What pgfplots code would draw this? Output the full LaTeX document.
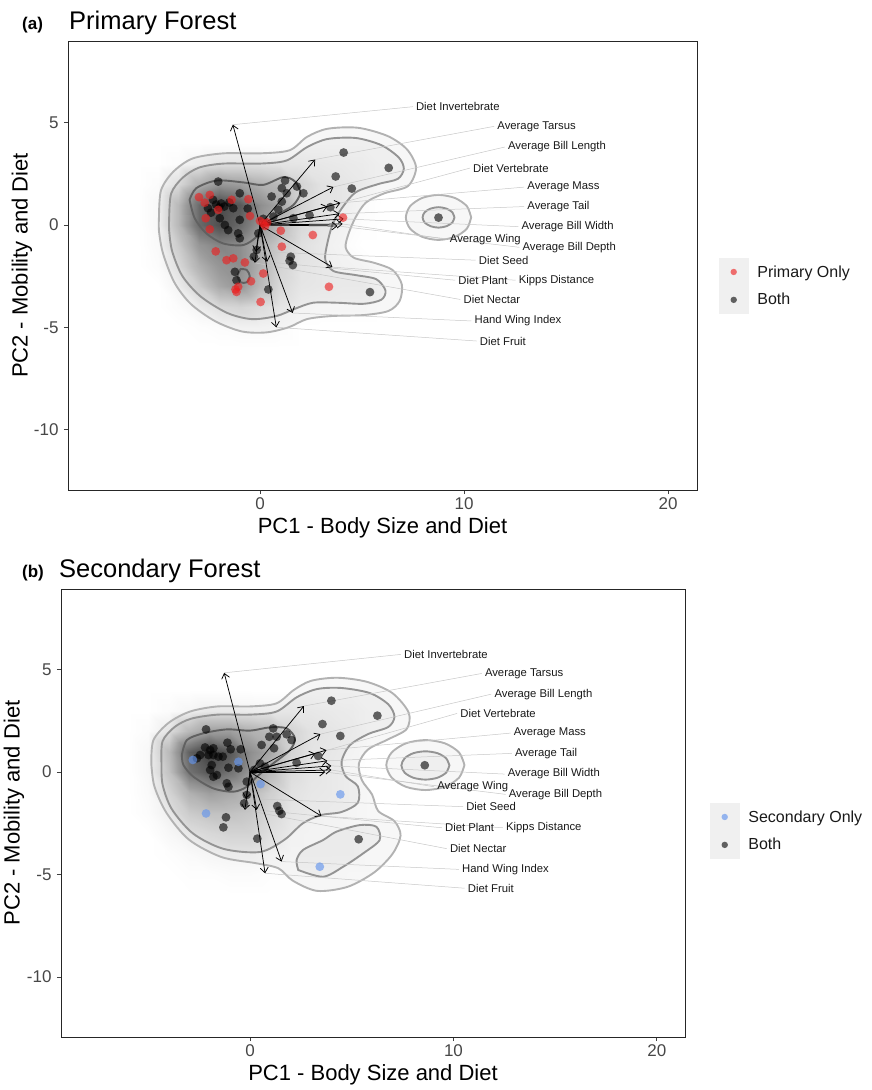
\documentclass[border=0pt]{standalone}
\usepackage{fontspec}
\setmainfont{Liberation Sans}
\usepackage{pgfplots}
\pgfplotsset{compat=1.18}
\usetikzlibrary{arrows.meta}
\definecolor{pfred}{RGB}{238,30,30}
\definecolor{sfblue}{RGB}{100,149,237}

\pgfplotsset{legend image code/.code={\fill[black!6] (0pt,-13.75pt) rectangle (29pt,13.75pt); \draw[mark repeat=2,mark phase=2,#1,mark size=3.2pt] plot coordinates {(0pt,0pt) (14.5pt,0pt) (29pt,0pt)};}}

\pgfplotsset{
  pca/.style={
    scale only axis,
    axis lines=box,
    tick pos=left,
    xtick={0,10,20}, xticklabels={0,10,20},
    ytick={-10,-5,0,5}, yticklabels={-10,-5,0,5},
    tick align=outside,
    major tick length=4pt,
    ticklabel style={font=\fontsize{17}{20}\selectfont, text=black!72},
    yticklabel style={xshift=-2pt},
    axis line style={black!85, line width=0.9pt},
    every tick/.style={black!75, line width=0.9pt},
    colormap={gw}{color(0)=(white) color(1)=(black!74)},
    point meta min=0, point meta max=1,
    legend cell align=left,
    legend style={draw=none, fill=none, inner sep=0pt, outer sep=0pt, row sep=0pt, column sep=9pt, font=\fontsize{16}{19}\selectfont, nodes={inner sep=0pt, text=black!90}, anchor=north west},
    every axis x label/.style={at={(axis description cs:0.5,-0.0846)}, anchor=center, font=\fontsize{22}{26}\selectfont, text=black},
    xlabel={PC1 - Body Size and Diet}, ylabel={PC2 - Mobility and Diet},
  },
  dens/.style={forget plot, surf, shader=interp, mesh/rows=11, mesh/cols=13, point meta=explicit},
  ring1/.style={forget plot, smooth, draw=black!30, line width=1.9pt, fill=black, fill opacity=0.03},
  ring2/.style={forget plot, smooth, draw=black!42, line width=1.9pt, fill=black, fill opacity=0.03},
  ring3/.style={forget plot, smooth, draw=black!62, line width=1.9pt},
  leader/.style={forget plot, black!22, line width=0.5pt, quiver={u=\thisrow{u},v=\thisrow{v}}},
  loading/.style={forget plot, black, line width=0.75pt, -{Straight Barb[length=5pt,width=8pt]}, quiver={u=\thisrow{u},v=\thisrow{v}}},
  bothpts/.style={only marks, mark=*, mark size=4.4pt, mark options={draw=black, draw opacity=0, fill=black, fill opacity=0.6}},
  redpts/.style={only marks, mark=*, mark size=4.4pt, mark options={draw=pfred, draw opacity=0, fill=pfred, fill opacity=0.62}},
  bluepts/.style={only marks, mark=*, mark size=4.4pt, mark options={draw=sfblue, draw opacity=0, fill=sfblue, fill opacity=0.65}},
  varlabels/.style={forget plot, only marks, mark=*, mark size=0pt, mark options={draw=none, fill=none}, nodes near coords, point meta=explicit symbolic, nodes near coords style={anchor=west, inner sep=0pt, font=\fontsize{11.3}{13}\selectfont, text=black!90}},
}

\begin{document}
\begin{tikzpicture}
\path[use as bounding box] (0pt,0pt) rectangle (871pt,-1090pt);
\node[anchor=base west, inner sep=0pt, font=\bfseries\fontsize{17}{20}\selectfont] at (22pt,-29pt) {(a)};
\node[anchor=base west, inner sep=0pt, font=\fontsize{25.5}{30}\selectfont] at (69pt,-29pt) {Primary Forest};
\node[anchor=base west, inner sep=0pt, font=\bfseries\fontsize{17}{20}\selectfont] at (22pt,-577pt) {(b)};
\node[anchor=base west, inner sep=0pt, font=\fontsize{25.5}{30}\selectfont] at (59pt,-577pt) {Secondary Forest};

% ================= Panel (a) =================
\begin{axis}[pca, at={(68pt,-490pt)}, anchor=south west, width=629pt, height=449pt,
  xmin=-9.41, xmax=21.42, ymin=-12.95, ymax=8.99,
  every axis y label/.style={at={(axis description cs:-0.0731,0.5)}, anchor=center, rotate=90, font=\fontsize{22}{26}\selectfont, text=black},
  legend style={at={(axis description cs:1.035,0.5167)}}]
\addplot[dens] coordinates {
(-6,-6)[0] (-5,-6)[0] (-4,-6)[0] (-3,-6)[0] (-2,-6)[0] (-1,-6)[0] (0,-6)[0] (1,-6)[0] (2,-6)[0] (3,-6)[0] (4,-6)[0] (5,-6)[0] (6,-6)[0]
(-6,-5)[0] (-5,-5)[0] (-4,-5)[0] (-3,-5)[0.01] (-2,-5)[0.02] (-1,-5)[0.03] (0,-5)[0.03] (1,-5)[0.02] (2,-5)[0] (3,-5)[0] (4,-5)[0] (5,-5)[0] (6,-5)[0]
(-6,-4)[0] (-5,-4)[0] (-4,-4)[0.02] (-3,-4)[0.06] (-2,-4)[0.12] (-1,-4)[0.15] (0,-4)[0.1] (1,-4)[0.05] (2,-4)[0.02] (3,-4)[0.01] (4,-4)[0.01] (5,-4)[0.01] (6,-4)[0]
(-6,-3)[0] (-5,-3)[0] (-4,-3)[0.06] (-3,-3)[0.2] (-2,-3)[0.4] (-1,-3)[0.5] (0,-3)[0.3] (1,-3)[0.12] (2,-3)[0.05] (3,-3)[0.04] (4,-3)[0.03] (5,-3)[0.03] (6,-3)[0]
(-6,-2)[0] (-5,-2)[0.02] (-4,-2)[0.12] (-3,-2)[0.35] (-2,-2)[0.5] (-1,-2)[0.55] (0,-2)[0.35] (1,-2)[0.15] (2,-2)[0.06] (3,-2)[0.04] (4,-2)[0.03] (5,-2)[0.02] (6,-2)[0]
(-6,-1)[0] (-5,-1)[0.03] (-4,-1)[0.2] (-3,-1)[0.5] (-2,-1)[0.6] (-1,-1)[0.55] (0,-1)[0.35] (1,-1)[0.2] (2,-1)[0.08] (3,-1)[0.04] (4,-1)[0.02] (5,-1)[0] (6,-1)[0]
(-6,0)[0] (-5,0)[0.04] (-4,0)[0.3] (-3,0)[0.75] (-2,0)[0.9] (-1,0)[0.75] (0,0)[0.5] (1,0)[0.3] (2,0)[0.12] (3,0)[0.05] (4,0)[0.03] (5,0)[0.01] (6,0)[0]
(-6,1)[0] (-5,1)[0.04] (-4,1)[0.3] (-3,1)[0.75] (-2,1)[0.95] (-1,1)[0.85] (0,1)[0.55] (1,1)[0.4] (2,1)[0.15] (3,1)[0.06] (4,1)[0.05] (5,1)[0.02] (6,1)[0]
(-6,2)[0] (-5,2)[0.02] (-4,2)[0.12] (-3,2)[0.35] (-2,2)[0.5] (-1,2)[0.45] (0,2)[0.35] (1,2)[0.3] (2,2)[0.15] (3,2)[0.07] (4,2)[0.05] (5,2)[0.03] (6,2)[0]
(-6,3)[0] (-5,3)[0] (-4,3)[0.02] (-3,3)[0.06] (-2,3)[0.1] (-1,3)[0.1] (0,3)[0.08] (1,3)[0.06] (2,3)[0.05] (3,3)[0.04] (4,3)[0.03] (5,3)[0.02] (6,3)[0]
(-6,4)[0] (-5,4)[0] (-4,4)[0] (-3,4)[0] (-2,4)[0] (-1,4)[0] (0,4)[0] (1,4)[0] (2,4)[0] (3,4)[0] (4,4)[0] (5,4)[0] (6,4)[0]
};
\addplot[ring1] coordinates {(-4.95,0.4) (-4.85,1.7) (-4.25,2.6) (-3.3,3.25) (-1.8,3.5) (0,3.5) (1.45,3.65) (2.3,4.3) (3.3,4.7) (4.8,4.75) (6.25,4.35) (7.2,3.7) (7.65,2.8) (7.25,1.9) (6.1,1.55) (5.2,1.1) (4.7,0.4) (4.35,-0.4) (4.2,-1.1) (4.6,-1.6) (5.6,-1.85) (6.5,-2.2) (6.95,-2.9) (6.85,-3.7) (6.3,-4.2) (5.1,-4.4) (3.5,-4.45) (2.3,-4.6) (1.4,-5.0) (0.3,-5.25) (-0.9,-5.2) (-2.2,-4.7) (-3.4,-3.85) (-4.2,-2.8) (-4.75,-1.4) (-4.95,-0.3) (-4.95,0.4)} -- cycle;
\addplot[ring2] coordinates {(-4.45,0.4) (-4.35,1.55) (-3.8,2.3) (-3.0,2.8) (-1.8,3.0) (0,3.0) (1.3,3.15) (2.3,3.8) (3.3,4.2) (4.7,4.25) (5.95,3.9) (6.8,3.3) (7.05,2.75) (6.75,2.25) (5.8,2.0) (4.7,1.6) (4.0,0.8) (3.55,0) (3.3,-0.9) (3.2,-1.7) (3.6,-2.25) (4.7,-2.45) (5.7,-2.65) (6.15,-3.2) (5.95,-3.65) (5.1,-3.85) (3.8,-3.8) (2.6,-3.8) (1.7,-4.1) (0.8,-4.45) (-0.4,-4.6) (-1.6,-4.3) (-2.9,-3.5) (-3.8,-2.5) (-4.3,-1.3) (-4.45,-0.3) (-4.45,0.4)} -- cycle;
\addplot[ring1] coordinates {(10.35,0.37) (10.14,0.92) (9.55,1.32) (8.75,1.47) (7.95,1.32) (7.36,0.92) (7.15,0.37) (7.36,-0.18) (7.95,-0.58) (8.75,-0.73) (9.55,-0.58) (10.14,-0.18) (10.35,0.37)} -- cycle;
\addplot[ring2] coordinates {(9.53,0.37) (9.43,0.62) (9.14,0.80) (8.75,0.87) (8.36,0.80) (8.07,0.62) (7.97,0.37) (8.07,0.12) (8.36,-0.06) (8.75,-0.13) (9.14,-0.06) (9.43,0.12) (9.53,0.37)} -- cycle;
\addplot[ring3] coordinates {(-3.45,1.23) (-3.12,1.80) (-2.13,2.17) (-0.82,2.08) (0.16,1.96) (1.15,2.34) (1.72,2.12) (1.97,1.55) (1.64,0.98) (0.99,0.57) (0.33,0.08) (-0.16,-0.57) (-0.82,-0.98) (-1.81,-0.90) (-2.63,-0.41) (-3.20,0.33) (-3.45,1.23)} -- cycle;
\addplot[ring3] coordinates {(-0.95,-2.15) (-0.65,-2.2) (-0.5,-2.5) (-0.65,-2.8) (-0.95,-2.8) (-1.1,-2.5) (-0.95,-2.15)} -- cycle;
\addplot[leader] table {
x y u v
-1.33 4.9 8.83 0.88
2.7 3.2 8.78 1.62
3.6 1.86 8.4 1.95
3.3 0.9 6.99 1.88
3.94 1.08 9.01 0.77
3.9 0.55 9.05 0.35
4.1 0.3 8.56 -0.38
4.05 0.05 5.1 -0.75
3.8 -0.05 8.91 -1.04
-0.2 -1.3 10.77 -0.42
0.35 -1.8 9.22 -0.9
3.55 -2.06 8.98 -0.64
-0.25 -1.85 10.07 -1.79
1.6 -4.3 8.76 -0.39
0.8 -5.0 9.82 -0.67
};
\addplot[bothpts, forget plot] coordinates {(4.10,3.54) (6.31,2.79) (3.71,2.37) (4.50,1.78) (8.75,0.36) (5.39,-3.28) (2.43,0.47) (3.45,0.87) (1.51,-1.55) (1.61,-1.96) (1.45,-1.75) (0.41,-3.15) (-1.15,-2.70) (-1.23,-2.29) (-2.05,2.12) (1.23,2.17) (1.07,1.80) (1.31,1.55) (1.81,1.88) (2.13,1.55) (1.07,1.14) (0.57,1.39) (0.66,0.41) (1.64,0.33) (-0.99,1.55) (-2.30,1.23) (-2.15,1.00) (-1.90,1.05) (-1.75,0.90) (-2.0,0.85) (-2.55,0.82) (-1.31,0.82) (-0.99,0.25) (-1.72,0.00) (-1.56,-0.25) (-1.07,-0.41) (-0.99,-0.65) (-0.08,-0.41) (-0.16,-1.22) (-1.97,0.33) (0.16,0.30) (-0.3,-1.55) (0.9,0.75) (-2.4,0.6) (-1.5,1.1) (-0.6,0.8)};
\addplot[redpts, forget plot] coordinates {(-2.99,1.36) (-2.46,1.47) (-2.71,1.09) (-1.39,1.23) (-0.57,1.26) (-0.49,0.44) (-2.05,0.74) (-2.66,0.33) (-2.46,-0.21) (0.16,0.08) (0.35,0.12) (0.0,0.2) (0.25,-0.05) (4.07,0.36) (2.59,-0.49) (1.02,-0.28) (1.07,-1.06) (-2.17,-1.29) (-1.64,-1.72) (-1.31,-1.63) (-0.74,-1.83) (0.16,-2.37) (-0.44,-2.75) (-1.07,-3.02) (-1.15,-3.27) (0.03,-3.76) (3.38,-3.02) (-1.2,-3.15)};
\addplot[loading] table {
x y u v
0 0 -1.33 4.9
0 0 2.7 3.2
0 0 3.6 1.86
0 0 3.3 0.9
0 0 3.94 1.08
0 0 3.9 0.55
0 0 4.1 0.3
0 0 4.05 0.05
0 0 3.8 -0.05
0 0 -0.2 -1.3
0 0 0.35 -1.8
0 0 3.55 -2.06
0 0 -0.25 -1.85
0 0 1.6 -4.3
0 0 0.8 -5.0
};
\addplot[varlabels] table[meta=label] {
x y label
7.64 5.78 {Diet Invertebrate}
11.63 4.82 {Average Tarsus}
12.15 3.81 {Average Bill Length}
10.44 2.78 {Diet Vertebrate}
13.10 1.85 {Average Mass}
13.10 0.90 {Average Tail}
12.81 -0.08 {Average Bill Width}
9.30 -0.70 {Average Wing}
12.86 -1.09 {Average Bill Depth}
10.72 -1.72 {Diet Seed}
9.72 -2.70 {Diet Plant}
12.68 -2.70 {Kipps Distance}
9.97 -3.64 {Diet Nectar}
10.51 -4.69 {Hand Wing Index}
10.77 -5.67 {Diet Fruit}
};
\addlegendimage{redpts}
\addlegendentry{Primary Only}
\addlegendimage{bothpts}
\addlegendentry{Both}
\node[anchor=base west, inner sep=0pt, font=\fontsize{21}{25}\selectfont] at (axis description cs:1.0393,0.5457) {Forest Type};
\end{axis}

% ================= Panel (b) =================
\begin{scope}[shift={(61pt,-1037pt)}]
\begin{axis}[pca, at={(0pt,0pt)}, anchor=south west, width=624pt, height=448pt,
  xmin=-9.29, xmax=21.38, ymin=-12.93, ymax=8.93,
  every axis y label/.style={at={(axis description cs:-0.0753,0.5)}, anchor=center, rotate=90, font=\fontsize{22}{26}\selectfont, text=black},
  legend style={at={(axis description cs:1.0401,0.5223)}}]
\addplot[dens] coordinates {
(-6,-6)[0] (-5,-6)[0] (-4,-6)[0] (-3,-6)[0] (-2,-6)[0] (-1,-6)[0] (0,-6)[0] (1,-6)[0] (2,-6)[0] (3,-6)[0] (4,-6)[0] (5,-6)[0] (6,-6)[0]
(-6,-5)[0] (-5,-5)[0] (-4,-5)[0] (-3,-5)[0.01] (-2,-5)[0.01] (-1,-5)[0.02] (0,-5)[0.02] (1,-5)[0.01] (2,-5)[0.01] (3,-5)[0.01] (4,-5)[0.01] (5,-5)[0] (6,-5)[0]
(-6,-4)[0] (-5,-4)[0] (-4,-4)[0.01] (-3,-4)[0.03] (-2,-4)[0.05] (-1,-4)[0.06] (0,-4)[0.06] (1,-4)[0.03] (2,-4)[0.02] (3,-4)[0.02] (4,-4)[0.02] (5,-4)[0.02] (6,-4)[0]
(-6,-3)[0] (-5,-3)[0] (-4,-3)[0.04] (-3,-3)[0.08] (-2,-3)[0.12] (-1,-3)[0.15] (0,-3)[0.15] (1,-3)[0.08] (2,-3)[0.03] (3,-3)[0.02] (4,-3)[0.02] (5,-3)[0.02] (6,-3)[0]
(-6,-2)[0] (-5,-2)[0.02] (-4,-2)[0.08] (-3,-2)[0.2] (-2,-2)[0.25] (-1,-2)[0.25] (0,-2)[0.22] (1,-2)[0.12] (2,-2)[0.05] (3,-2)[0.03] (4,-2)[0.02] (5,-2)[0.01] (6,-2)[0]
(-6,-1)[0] (-5,-1)[0.03] (-4,-1)[0.15] (-3,-1)[0.35] (-2,-1)[0.45] (-1,-1)[0.4] (0,-1)[0.3] (1,-1)[0.18] (2,-1)[0.07] (3,-1)[0.04] (4,-1)[0.03] (5,-1)[0.01] (6,-1)[0]
(-6,0)[0] (-5,0)[0.04] (-4,0)[0.25] (-3,0)[0.7] (-2,0)[0.85] (-1,0)[0.7] (0,0)[0.5] (1,0)[0.3] (2,0)[0.1] (3,0)[0.05] (4,0)[0.03] (5,0)[0.01] (6,0)[0]
(-6,1)[0] (-5,1)[0.04] (-4,1)[0.3] (-3,1)[0.8] (-2,1)[1.0] (-1,1)[0.85] (0,1)[0.55] (1,1)[0.4] (2,1)[0.15] (3,1)[0.06] (4,1)[0.04] (5,1)[0.02] (6,1)[0]
(-6,2)[0] (-5,2)[0.02] (-4,2)[0.1] (-3,2)[0.3] (-2,2)[0.45] (-1,2)[0.45] (0,2)[0.35] (1,2)[0.3] (2,2)[0.15] (3,2)[0.07] (4,2)[0.05] (5,2)[0.03] (6,2)[0]
(-6,3)[0] (-5,3)[0] (-4,3)[0.02] (-3,3)[0.05] (-2,3)[0.08] (-1,3)[0.08] (0,3)[0.06] (1,3)[0.05] (2,3)[0.05] (3,3)[0.04] (4,3)[0.03] (5,3)[0.02] (6,3)[0]
(-6,4)[0] (-5,4)[0] (-4,4)[0] (-3,4)[0] (-2,4)[0] (-1,4)[0] (0,4)[0] (1,4)[0] (2,4)[0] (3,4)[0] (4,4)[0] (5,4)[0] (6,4)[0]
};
\addplot[ring1] coordinates {(-4.85,0.4) (-4.75,1.55) (-4.0,2.4) (-2.95,2.95) (-1.6,3.2) (0,3.2) (1.3,3.35) (2.15,4.0) (3.0,4.45) (4.3,4.6) (5.75,4.4) (7.0,3.85) (7.8,2.9) (7.7,2.1) (6.8,1.6) (5.8,1.1) (5.35,0.4) (5.5,-0.4) (6.0,-1.1) (6.3,-1.9) (7.1,-2.4) (7.4,-3.1) (7.0,-4.0) (6.1,-4.9) (4.8,-5.6) (3.3,-5.8) (2.1,-5.3) (1.4,-4.7) (0.3,-4.45) (-1.4,-4.15) (-3.0,-3.3) (-4.1,-2.0) (-4.7,-0.7) (-4.85,0.4)} -- cycle;
\addplot[ring2] coordinates {(-4.35,0.4) (-4.3,1.5) (-3.7,2.2) (-2.9,2.6) (-1.6,2.8) (0,2.8) (1.3,2.95) (2.3,3.65) (3.3,4.05) (4.5,4.1) (5.9,3.85) (6.8,3.3) (7.1,2.7) (6.8,2.2) (5.8,1.85) (4.9,1.3) (4.5,0.5) (4.7,-0.2) (5.3,-0.7) (5.3,-1.5) (4.5,-1.95) (3.5,-2.1) (2.6,-2.5) (1.7,-3.3) (0.5,-3.9) (-1.3,-3.75) (-2.8,-3.0) (-3.85,-1.8) (-4.3,-0.6) (-4.35,0.4)} -- cycle;
\addplot[ring2] coordinates {(2.37,-4.78) (3.59,-5.11) (4.58,-4.62) (5.56,-3.97) (6.37,-3.32) (6.21,-2.67) (5.39,-2.59) (4.25,-2.91) (3.59,-3.32) (2.61,-3.8) (2.29,-4.29) (2.37,-4.78)} -- cycle;
\addplot[ring1] coordinates {(10.54,0.34) (10.28,0.95) (9.58,1.40) (8.62,1.56) (7.66,1.40) (6.96,0.95) (6.70,0.34) (6.96,-0.27) (7.66,-0.72) (8.62,-0.88) (9.58,-0.72) (10.28,-0.27) (10.54,0.34)} -- cycle;
\addplot[ring2] coordinates {(9.80,0.32) (9.64,0.67) (9.21,0.92) (8.62,1.01) (8.03,0.92) (7.60,0.67) (7.44,0.32) (7.60,-0.03) (8.03,-0.28) (8.62,-0.37) (9.21,-0.28) (9.64,-0.03) (9.80,0.32)} -- cycle;
\addplot[ring3] coordinates {(-3.35,0.83) (-3.10,1.56) (-2.29,1.89) (-1.14,2.08) (0,2.02) (0.98,2.18) (1.80,2.13) (2.21,1.64) (1.96,1.07) (1.14,0.42) (0.33,-0.23) (-0.16,-0.72) (-0.82,-0.96) (-1.80,-0.80) (-2.78,-0.23) (-3.27,0.34) (-3.35,0.83)} -- cycle;
\addplot[leader] table {
x y u v
-1.27 4.84 8.69 0.90
2.65 3.22 8.74 1.59
3.46 1.85 8.40 1.95
3.2 0.9 6.98 1.96
3.76 1.07 9.05 0.83
3.8 0.55 9.07 0.36
4.0 0.3 8.51 -0.40
4.0 0.1 5.05 -0.82
3.7 0.0 8.86 -1.09
-0.2 -1.3 10.67 -0.39
0.33 -1.85 9.10 -0.87
3.51 -2.15 8.92 -0.57
-0.25 -1.85 9.92 -1.89
1.55 -4.37 8.72 -0.38
0.74 -4.94 9.81 -0.73
};
\addplot[bothpts, forget plot] coordinates {(4.00,3.48) (6.26,2.75) (3.56,2.34) (4.44,1.76) (8.59,0.33) (5.34,-3.28) (3.35,0.78) (2.29,0.45) (1.34,-1.66) (1.44,-1.89) (1.55,-2.05) (0.36,-3.25) (-1.18,-2.21) (-1.31,-2.70) (-0.16,-1.12) (-0.29,-1.53) (-2.16,2.08) (1.14,2.13) (1.31,1.72) (1.80,1.84) (2.04,1.56) (0.57,1.32) (1.18,1.16) (0.95,1.72) (-2.21,1.20) (-1.96,1.07) (-1.80,1.16) (-2.04,0.83) (-1.80,0.83) (-2.45,0.83) (-2.61,0.67) (-1.55,0.75) (-1.34,0.75) (-1.06,0.21) (-0.57,0.18) (-0.46,1.11) (-1.11,1.43) (-0.95,1.11) (-1.88,0.34) (-1.96,0.10) (-1.80,-0.23) (-1.63,-0.15) (-1.14,-0.55) (-1.06,-0.72) (0.49,0.42) (-0.16,-0.47) (0.74,0.26) (0.2,0.1)};
\addplot[bluepts, forget plot] coordinates {(-2.81,0.59) (-0.57,0.50) (0.52,-0.59) (4.44,-1.09) (-2.16,-2.02) (3.43,-4.62)};
\addplot[loading] table {
x y u v
0 0 -1.27 4.84
0 0 2.65 3.22
0 0 3.46 1.85
0 0 3.2 0.9
0 0 3.76 1.07
0 0 3.8 0.55
0 0 4.0 0.3
0 0 4.0 0.1
0 0 3.7 0.0
0 0 -0.2 -1.3
0 0 0.33 -1.85
0 0 3.51 -2.15
0 0 -0.25 -1.85
0 0 1.55 -4.37
0 0 0.74 -4.94
};
\addplot[varlabels] table[meta=label] {
x y label
7.57 5.74 {Diet Invertebrate}
11.54 4.81 {Average Tarsus}
12.01 3.80 {Average Bill Length}
10.33 2.86 {Diet Vertebrate}
12.96 1.90 {Average Mass}
13.02 0.91 {Average Tail}
12.66 -0.10 {Average Bill Width}
9.20 -0.72 {Average Wing}
12.71 -1.09 {Average Bill Depth}
10.62 -1.69 {Diet Seed}
9.58 -2.72 {Diet Plant}
12.58 -2.72 {Kipps Distance}
9.82 -3.74 {Diet Nectar}
10.42 -4.75 {Hand Wing Index}
10.70 -5.67 {Diet Fruit}
};
\addlegendimage{bluepts}
\addlegendentry{Secondary Only}
\addlegendimage{bothpts}
\addlegendentry{Both}
\node[anchor=base west, inner sep=0pt, font=\fontsize{21}{25}\selectfont] at (axis description cs:1.0412,0.5453) {Forest Type};
\end{axis}
\end{scope}
\end{tikzpicture}
\end{document}
